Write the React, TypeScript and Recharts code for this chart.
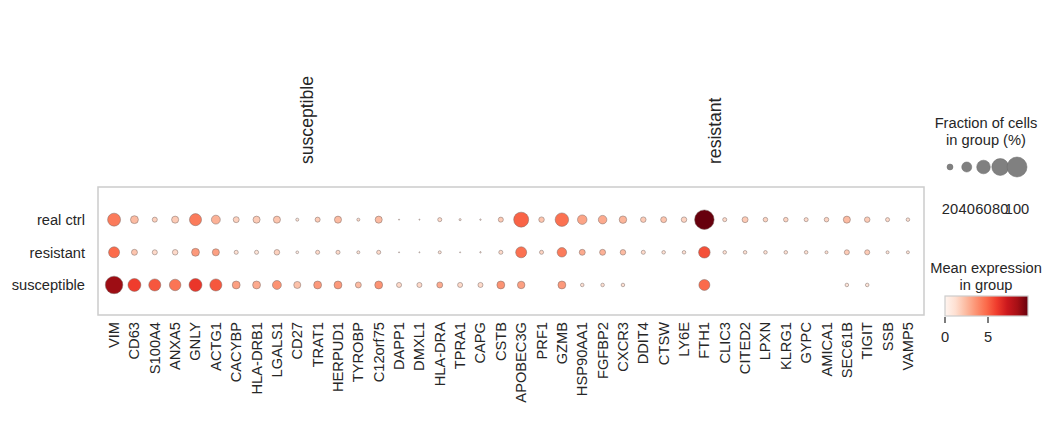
import React from 'react';
import { ScatterChart, Scatter, XAxis, YAxis, ReferenceArea, Customized } from 'recharts';

const genes = [
  'VIM', 'CD63', 'S100A4', 'ANXA5', 'GNLY', 'ACTG1', 'CACYBP', 'HLA-DRB1', 'LGALS1', 'CD27',
  'TRAT1', 'HERPUD1', 'TYROBP', 'C12orf75', 'DAPP1', 'DMXL1', 'HLA-DRA', 'TPRA1', 'CAPG', 'CSTB',
  'APOBEC3G', 'PRF1', 'GZMB', 'HSP90AA1', 'FGFBP2', 'CXCR3', 'DDIT4', 'CTSW', 'LY6E', 'FTH1',
  'CLIC3', 'CITED2', 'LPXN', 'KLRG1', 'GYPC', 'AMICA1', 'SEC61B', 'TIGIT', 'SSB', 'VAMP5',
];

// groups top to bottom
const groups = ['real ctrl', 'resistant', 'susceptible'];

// fraction of cells expressing (%) per gene
const realCtrlFrac = [
  56, 29, 16, 25, 51, 34, 20, 25, 25, 8,
  16, 25, 8, 25, 2, 2, 12, 5, 3, 16,
  68, 18, 59, 37, 32, 27, 18, 20, 18, 97,
  12, 20, 14, 14, 12, 14, 25, 18, 12, 10,
];
const resistantFrac = [
  45, 20, 16, 18, 29, 25, 12, 12, 18, 7,
  12, 12, 8, 12, 2, 2, 8, 2, 3, 12,
  45, 12, 37, 20, 20, 18, 12, 10, 10, 48,
  10, 10, 10, 10, 10, 8, 16, 16, 8, 8,
];
const susceptibleFrac = [
  84, 56, 51, 48, 56, 51, 29, 29, 34, 25,
  29, 29, 20, 29, 16, 16, 20, 16, 16, 29,
  27, 0, 29, 10, 10, 10, 0, 0, 0, 45,
  0, 0, 0, 0, 0, 0, 10, 10, 0, 0,
];

// mean expression in group
const realCtrlExpr = [
  4.3, 2.4, 1.7, 1.9, 4.3, 2.7, 1.7, 1.9, 2.1, 1.0,
  1.9, 2.4, 1.4, 2.4, 1.0, 1.0, 1.4, 1.0, 1.0, 1.9,
  5.0, 2.1, 4.6, 3.1, 2.9, 2.6, 1.9, 2.1, 1.6, 9.65,
  1.4, 1.9, 1.6, 1.6, 1.4, 1.6, 2.4, 1.9, 1.4, 1.2,
];
const resistantExpr = [
  4.8, 2.1, 1.4, 1.4, 3.4, 3.2, 1.2, 1.0, 1.7, 0.5,
  1.4, 1.4, 1.0, 1.4, 0.8, 0.8, 1.0, 0.8, 0.8, 1.4,
  4.6, 1.6, 4.3, 2.9, 2.7, 2.4, 1.4, 1.2, 1.2, 5.5,
  1.2, 1.2, 1.2, 1.2, 1.2, 1.2, 1.9, 1.9, 1.0, 1.0,
];
const susceptibleExpr = [
  8.6, 6.0, 5.3, 4.5, 6.2, 5.3, 3.2, 2.9, 3.6, 2.2,
  3.4, 3.4, 2.4, 3.6, 1.4, 1.4, 2.9, 1.4, 1.4, 3.6,
  3.2, 0, 3.4, 1.2, 1.2, 1.2, 0, 0, 0, 4.8,
  0, 0, 0, 0, 0, 0, 1.0, 1.0, 0, 0,
];

const groupLabels = ['susceptible', 'resistant'];
const groupCenters = [9.5, 29.5];
const legendFracs = [20, 40, 60, 80, 100];
const colorbarTicks = [0, 5];
const VMAX = 9.65;

const FONT = '"Liberation Sans", Arial, sans-serif';
const TEXT = '#262626';
const REDS = ['#fff5f0', '#fee0d2', '#fcbba1', '#fc9272', '#fb6a4a', '#ef3b2c', '#cb181d', '#a50f15', '#67000d'];

const hex = (c: string) => [1, 3, 5].map((i) => parseInt(c.slice(i, i + 2), 16));
const redColor = (v: number) => {
  const t = Math.max(0, Math.min(1, v / VMAX)) * (REDS.length - 1);
  const i = Math.min(REDS.length - 2, Math.floor(t));
  const f = t - i;
  const a = hex(REDS[i]);
  const b = hex(REDS[i + 1]);
  const c = a.map((x, k) => Math.round(x + (b[k] - x) * f));
  return `rgb(${c[0]},${c[1]},${c[2]})`;
};
const dotRadius = (frac: number) => 10 * Math.pow(frac / 100, 0.75);

const rows = [
  { name: groups[0], y: 2, frac: realCtrlFrac, expr: realCtrlExpr },
  { name: groups[1], y: 1, frac: resistantFrac, expr: resistantExpr },
  { name: groups[2], y: 0, frac: susceptibleFrac, expr: susceptibleExpr },
];

const series = rows.map((r) => ({
  name: r.name,
  data: genes.map((g, i) => ({ x: i, y: r.y, gene: g, frac: r.frac[i], expr: r.expr[i] })),
}));

// invisible anchors so the top axis (group labels) gets rendered
const groupAnchors = groupCenters.map((c) => ({ x: c, y: 2 }));

const Dot = (props: any) => {
  const { cx, cy, payload } = props;
  if (!payload || payload.frac <= 0) return <g />;
  return (
    <circle cx={cx} cy={cy} r={dotRadius(payload.frac)} fill={redColor(payload.expr)}
      stroke="#7a6a66" strokeWidth={0.5} />
  );
};

const GeneTick = (props: any) => {
  const { x, y, payload } = props;
  return (
    <text x={x} y={y} transform={`rotate(-90, ${x}, ${y})`} textAnchor="end"
      dominantBaseline="central" fontSize={14.67} fill={TEXT} fontFamily={FONT}>
      {genes[payload.value]}
    </text>
  );
};

const GroupTick = (props: any) => {
  const { x, y, payload } = props;
  const idx = groupCenters.indexOf(payload.value);
  return (
    <text x={x} y={y} transform={`rotate(-90, ${x}, ${y})`} textAnchor="start"
      dominantBaseline="central" fontSize={17.6} fill={TEXT} fontFamily={FONT}>
      {groupLabels[idx]}
    </text>
  );
};

const LegendPanel = () => {
  const cx = 986;
  const dotX0 = 950;
  const dotStep = 16.75;
  const barX = 945;
  const barW = 83;
  return (
    <g fontFamily={FONT} fill={TEXT}>
      <text x={cx} y={128} textAnchor="middle" fontSize={14.67}>Fraction of cells</text>
      <text x={cx} y={145} textAnchor="middle" fontSize={14.67}>in group (%)</text>
      {legendFracs.map((f, i) => (
        <g key={f}>
          <circle cx={dotX0 + i * dotStep} cy={167} r={dotRadius(f)} fill="#808080" stroke="#6a6a6a" strokeWidth={0.5} />
          <text x={dotX0 + i * dotStep} y={214} textAnchor="middle" fontSize={14.67}>{f}</text>
        </g>
      ))}
      <text x={cx} y={273} textAnchor="middle" fontSize={14.67}>Mean expression</text>
      <text x={cx} y={290} textAnchor="middle" fontSize={14.67}>in group</text>
      <defs>
        <linearGradient id="redsGrad" x1="0" x2="1" y1="0" y2="0">
          {REDS.map((c, i) => (
            <stop key={c} offset={`${(i / (REDS.length - 1)) * 100}%`} stopColor={c} />
          ))}
        </linearGradient>
      </defs>
      <rect x={barX} y={296} width={barW} height={20} fill="url(#redsGrad)" stroke="#cccccc" strokeWidth={1.2} />
      {colorbarTicks.map((t) => {
        const tx = barX + (t / VMAX) * barW;
        return (
          <g key={t}>
            <line x1={tx} x2={tx} y1={317} y2={323} stroke="#262626" strokeWidth={1.2} />
            <text x={tx} y={342} textAnchor="middle" fontSize={14.67}>{t}</text>
          </g>
        );
      })}
    </g>
  );
};

export default function App() {
  return (
    <div style={{ position: 'absolute', left: 0, top: 0, background: '#fff' }}>
      <ScatterChart width={1053} height={423} margin={{ top: 0, right: 129, bottom: 0, left: 0 }}>
        <XAxis xAxisId="bottom" type="number" dataKey="x" domain={[-0.79, 39.79]}
          ticks={genes.map((_, i) => i)} interval={0} height={108}
          axisLine={false} tickLine={false} tickSize={0} tickMargin={7} tick={<GeneTick />} />
        <XAxis xAxisId="top" orientation="top" type="number" dataKey="x" domain={[-0.79, 39.79]}
          ticks={groupCenters} interval={0} height={187}
          axisLine={false} tickLine={false} tickSize={0} tickMargin={23} tick={<GroupTick />} />
        <YAxis type="number" dataKey="y" domain={[-0.92, 3]} ticks={[0, 1, 2]} width={98}
          axisLine={false} tickLine={false} tickSize={0} tickMargin={13}
          tickFormatter={(v: number) => groups[2 - v]}
          tick={{ fontSize: 14.67, fill: TEXT, fontFamily: FONT }} />
        <ReferenceArea xAxisId="bottom" x1={-0.79} x2={39.79} y1={-0.92} y2={3}
          fill="none" stroke="#cccccc" strokeWidth={1.5} />
        <Scatter xAxisId="top" data={groupAnchors} shape={() => <g />} isAnimationActive={false} />
        {series.map((s) => (
          <Scatter key={s.name} xAxisId="bottom" name={s.name} data={s.data}
            shape={<Dot />} isAnimationActive={false} />
        ))}
        <Customized component={<LegendPanel />} />
      </ScatterChart>
    </div>
  );
}
